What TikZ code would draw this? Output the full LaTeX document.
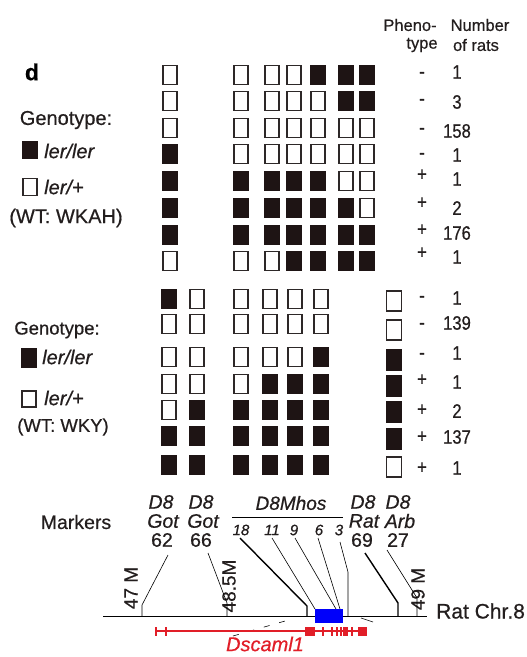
\documentclass[tikz,border=0pt]{standalone}
\usepackage{fontspec}
\setmainfont[FakeBold=0.6]{Liberation Sans}
\newfontfamily\narrowfont[FakeStretch=0.85,FakeBold=0.6]{Liberation Sans}
\newcommand\fsz[1]{\fontsize{#1}{#1}\selectfont}
\definecolor{boxdark}{RGB}{30,20,20}
\definecolor{boxline}{RGB}{45,40,40}
\definecolor{txt}{RGB}{35,30,30}
\definecolor{genered}{RGB}{225,30,40}
\definecolor{chrblue}{RGB}{0,0,250}
\begin{document}
\begin{tikzpicture}[x=1pt,y=-1pt,
  every node/.style={text=txt},
  g0/.style={draw=boxline, line width=1.8pt, fill=white, minimum width=14pt, minimum height=19pt, inner sep=0pt},
  g1/.style={g0, draw=boxdark, fill=boxdark},
  lab/.style={inner sep=0pt, font=\fsz{20}},
  hdr/.style={inner sep=0pt, font=\fsz{16.5}},
  num/.style={inner sep=0pt, font=\narrowfont\fsz{19.5}},
  mk/.style={inner sep=0pt, font=\fsz{19.5}},
  mki/.style={inner sep=0pt, font=\itshape\fsz{19.5}},
  mks/.style={inner sep=0pt, font=\itshape\fsz{15}},
  thinln/.style={line width=0.6pt},
  thickln/.style={line width=1.4pt},
  redln/.style={genered, line width=1.3pt}
]
\useasboundingbox (0,0) rectangle (527,657);

% ---------- headers ----------
\node[font=\bfseries\fsz{23}, inner sep=0pt, text=black] (dlab) at (32,72) {d};
\node[hdr] (ph1) at (410,25) {Pheno-};
\node[hdr] (ph2) at (422,45) {type};
\node[hdr] (nr1) at (480,25) {Number};
\node[hdr] (nr2) at (476,45) {of rats};

% ---------- top legend ----------
\node[lab] (gt1) at (66,120) {Genotype:};
\node[g1, minimum width=14pt, minimum height=17pt] (lf1) at (30,150) {};
\node[lab, anchor=west] (lft1) at (44,151) {\itshape ler/ler};
\node[g0, minimum width=14pt, minimum height=17pt] (le1) at (30,187) {};
\node[lab, anchor=west] (let1) at (44,187) {\itshape ler/+};
\node[lab] (wt1) at (66,218) {(WT: WKAH)};

% ---------- top panel ----------
\def\topcols{{170,241,272,294,318,346,367}}
\foreach \r/\y/\pat in {
  1/75/{0,0,0,0,1,1,1},
  2/101/{0,0,0,0,0,1,1},
  3/128/{0,0,0,0,0,0,0},
  4/154/{1,0,0,0,0,0,0},
  5/181/{1,1,1,1,1,0,0},
  6/208/{1,1,1,1,1,1,0},
  7/235/{1,1,1,1,1,1,1},
  8/261/{0,0,0,1,1,1,1}}{
  \foreach \f [count=\c from 0] in \pat {
    \pgfmathsetmacro\xx{\topcols[\c]}
    \node[g\f] (t\r-\c) at (\xx,\y) {};
  }
}
\foreach \r/\s/\sy/\n/\ny in {1/-/75/1/72, 2/-/102/3/102, 3/-/131/158/131, 4/-/156/1/155,
  5/+/175/1/179, 6/+/203/2/208, 7/+/230/176/233, 8/+/253/1/257}{
  \node[num] (tp\r) at (422,\sy) {\s};
  \node[num] (tn\r) at (457,\ny) {\n};
}

% ---------- bottom legend ----------
\node[lab, font=\fsz{18.5}] (gt2) at (57,330) {Genotype:};
\node[g1, minimum width=14pt, minimum height=18pt] (lf2) at (29,358) {};
\node[lab, anchor=west] (lft2) at (42,357) {\itshape ler/ler};
\node[g0, minimum width=14pt, minimum height=16pt] (le2) at (29,399) {};
\node[lab, anchor=west] (let2) at (44,398) {\itshape ler/+};
\node[lab, font=\fsz{18.5}] (wt2) at (63,427) {(WT: WKY)};

% ---------- bottom panel ----------
\def\botcols{{169,197,241,270,295,321}}
\foreach \r/\y/\pat in {
  1/299/{1,0,0,0,0,0},
  2/324/{0,0,0,0,0,0},
  3/357/{0,0,0,0,0,1},
  4/384/{0,0,0,1,1,1},
  5/410/{0,1,1,1,1,1},
  6/436/{1,1,1,1,1,1},
  7/465/{1,1,1,1,1,1}}{
  \foreach \f [count=\c from 0] in \pat {
    \pgfmathsetmacro\xx{\botcols[\c]}
    \node[g\f] (b\r-\c) at (\xx,\y) {};
  }
}
\foreach \r/\y/\f in {1/301/0, 2/330/0, 3/360/1, 4/386/1, 5/412/1, 6/439/1, 7/467/0}{
  \node[g\f, minimum width=15pt, minimum height=20pt] (br\r) at (394,\y) {};
}
\foreach \r/\s/\sy/\n/\ny in {1/-/299/1/298, 2/-/326/139/323, 3/-/356/1/353,
  4/+/380/1/382, 5/+/410/2/411, 6/+/437/137/437, 7/+/468/1/468}{
  \node[num] (bp\r) at (422,\sy) {\s};
  \node[num] (bn\r) at (457,\ny) {\n};
}

% ---------- markers ----------
\node[lab, font=\fsz{19.5}] (mkr) at (76,522) {Markers};
\node[mki] (a1) at (161,502) {D8};
\node[mki] (a2) at (163,521) {Got};
\node[mk]  (a3) at (162,540) {62};
\node[mki] (b1) at (201,502) {D8};
\node[mki] (b2) at (203,521) {Got};
\node[mk]  (b3) at (201,540) {66};
\node[mki, font=\itshape\fsz{19}] (c1) at (291,503) {D8Mhos};
\coordinate (cl) at (232,517);
\coordinate (cr) at (343,517);
\draw[line width=1pt] (cl) -- (cr);
\node[mks] (m18) at (241,530) {18};
\node[mks] (m11) at (272,530) {11};
\node[mks] (m9)  at (294,530) {9};
\node[mks] (m6)  at (319,530) {6};
\node[mks] (m3)  at (339,530) {3};
\node[mki] (d1) at (363,502) {D8};
\node[mki] (d2) at (364,521) {Rat};
\node[mk]  (d3) at (362,540) {69};
\node[mki] (e1) at (398,502) {D8};
\node[mki] (e2) at (400,521) {Arb};
\node[mk]  (e3) at (398,540) {27};

% ---------- chromosome ----------
\coordinate (chrL) at (103,616);
\coordinate (chrR) at (427,616);
\draw[line width=0.9pt] (chrL) -- (chrR);
\node[mk, font=\fsz{21}, anchor=west] (chrlab) at (436,611) {Rat Chr.8};

\node[mk, font=\fsz{19}, rotate=90] (l47) at (131,588) {47 M};
\node[mk, font=\fsz{19}, rotate=90] (l485) at (229,586) {48.5M};
\node[mk, font=\fsz{19}, rotate=90] (l49) at (418,589) {49 M};

% marker connectors
\coordinate (p62a) at (168,555); \coordinate (p62b) at (142,605); \coordinate (p62c) at (142,616);
\draw[thinln] (p62a) -- (p62b) -- (p62c);
\coordinate (p66a) at (208,553); \coordinate (p66b) at (227,603); \coordinate (p66c) at (227,616);
\draw[thinln] (p66a) -- (p66b) -- (p66c);
\coordinate (p18a) at (240,538); \coordinate (p18b) at (307,606); \coordinate (p18c) at (307,616);
\draw[thickln] (p18a) -- (p18b) -- (p18c);
\coordinate (p11a) at (272,538); \coordinate (p11b) at (315,609);
\draw[thinln] (p11a) -- (p11b);
\coordinate (p9a) at (295,538); \coordinate (p9b) at (336,609);
\draw[thinln] (p9a) -- (p9b);
\coordinate (p6a) at (318,538); \coordinate (p6b) at (340,609);
\draw[thinln] (p6a) -- (p6b);
\coordinate (p3a) at (340,542); \coordinate (p3b) at (348,572); \coordinate (p3c) at (348,616);
\draw[thinln] (p3a) -- (p3b) -- (p3c);
\coordinate (p69a) at (365,553); \coordinate (p69b) at (398,603); \coordinate (p69c) at (398,616);
\draw[thickln] (p69a) -- (p69b) -- (p69c);
\coordinate (p27a) at (387,550); \coordinate (p27b) at (417,598); \coordinate (p27c) at (417,616);
\draw[thinln] (p27a) -- (p27b) -- (p27c);

\node[fill=chrblue, minimum width=28pt, minimum height=14pt, inner sep=0pt] (blk) at (329,616) {};

% faint dashed traces
\coordinate (q1) at (233,636); \coordinate (q2) at (292,619);
\draw[thinln, dash pattern=on 6pt off 10pt] (q1) -- (q2);
\coordinate (q3) at (361,618); \coordinate (q4) at (373,622);
\draw[thinln] (q3) -- (q4);

% ---------- gene ----------
\coordinate (gL) at (155,631);
\coordinate (gR) at (367,631);
\draw[redln] (gL) -- (gR);
\foreach \x in {156,166,306,323,332,337,341,352}{
  \draw[genered, line width=1.3pt] (\x,627) -- (\x,636);
}
\foreach \a/\b in {307/315, 343/348, 358/367}{
  \fill[genered] (\a,627) rectangle (\b,636);
}
\node[inner sep=0pt, font=\itshape\fsz{20}, text=genered] (dscam) at (265,644) {Dscaml1};
\end{tikzpicture}
\end{document}
